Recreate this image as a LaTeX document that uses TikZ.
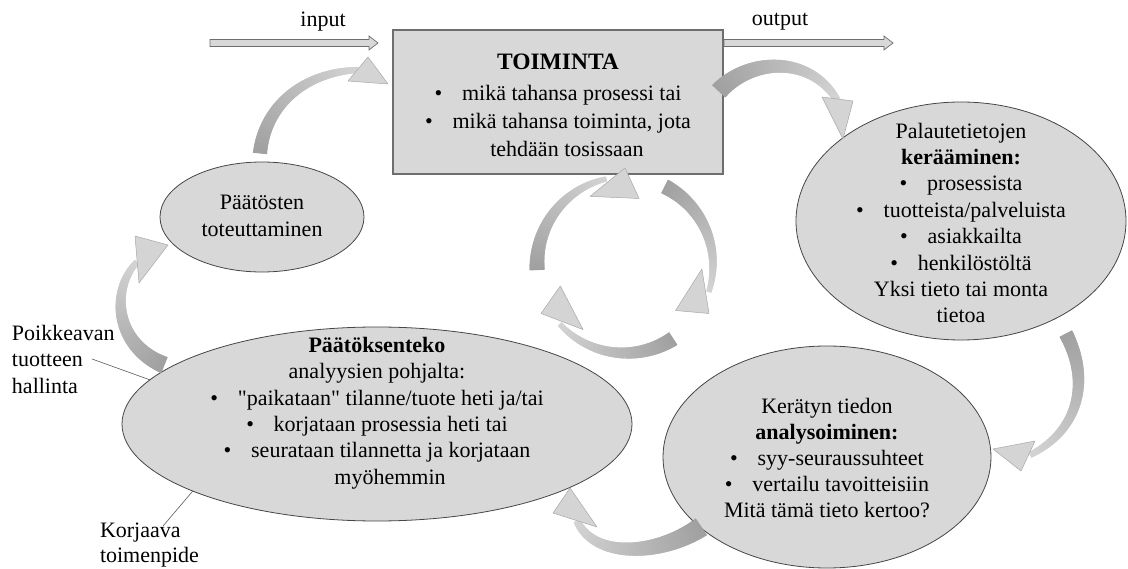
\documentclass[tikz,border=0pt]{standalone}
\usepackage{fontspec}
\setmainfont{Liberation Serif}[Ligatures=TeXOff]
\usetikzlibrary{shapes.geometric,calc,decorations.markings}

\definecolor{shapefill}{RGB}{216,216,216}
\definecolor{shapeline}{RGB}{70,70,70}
\definecolor{boxline}{RGB}{110,110,110}
\definecolor{arrowdark}{RGB}{160,160,160}
\definecolor{arrowlight}{RGB}{212,212,212}
\definecolor{headline}{RGB}{168,168,168}
\definecolor{labelline}{RGB}{90,90,90}

% Tapered shaft of a curved block arrow: #1 tail width, #2 neck width, #3 centre line.
% It is painted as a run of thin slabs across the line that narrow and lighten toward the head.
\newcommand\taperedshaft[3]{%
  \path[decoration={markings,
      mark=between positions 0 and 1 step 0.5pt with {%
        \pgfmathsetmacro\shfrac{\pgfkeysvalueof{/pgf/decoration/mark info/distance from start}/\pgfdecoratedpathlength}%
        \pgfmathsetmacro\shrad{(#1+(#2-#1)*\shfrac)/2}%
        \pgfmathsetmacro\shmix{100*(1-\shfrac)}%
        \fill[arrowdark!\shmix!arrowlight] (-0.5pt,-\shrad pt) rectangle (0.5pt,\shrad pt);%
      }}, decorate] #3;%
}
% Head of a curved block arrow: barb, tip, barb.
\newcommand\blockhead[3]{\filldraw[headstyle] (#1) -- (#2) -- (#3) -- cycle;}
% Flat double-lined arrow between two coordinates on one horizontal line.
\newcommand\flatarrow[2]{%
  \filldraw[flatarrowstyle] ($(#1)+(0,-3.5)$) -- ($(#2)+(-9,-3.5)$) -- ($(#2)+(-9,-7)$) -- (#2)
    -- ($(#2)+(-9,7)$) -- ($(#2)+(-9,3.5)$) -- ($(#1)+(0,3.5)$) -- cycle;}

\begin{document}
\begin{tikzpicture}[x=1pt,y=-1pt,
  every node/.style={font=\fontsize{22}{26.4}\selectfont, inner sep=0pt, outer sep=0pt},
  bubble/.style={ellipse, draw=shapeline, line width=0.8pt, fill=shapefill},
  actbox/.style={rectangle, draw=boxline, line width=1.2pt, fill=shapefill},
  textblock/.style={align=center},
  sidelabel/.style={align=left, anchor=north west},
  headstyle/.style={fill=arrowlight, draw=headline, line width=0.5pt, line join=round},
  flatarrowstyle/.style={fill=shapefill, draw=boxline, line width=0.7pt, line join=miter},
  leader/.style={draw=labelline, line width=0.6pt}]

\useasboundingbox[fill=white] (0,0) rectangle (1128,569);

% ---- main shapes ----
\node[actbox, minimum width=330pt, minimum height=144pt] (act) at (558,102) {};
\node[bubble, minimum width=330pt, minimum height=238pt] (collect) at (961,221) {};
\node[bubble, minimum width=328pt, minimum height=222pt] (analyse) at (827,457) {};
\node[bubble, minimum width=510pt, minimum height=194pt] (decide) at (377,424) {};
\node[bubble, minimum width=204pt, minimum height=110pt] (implement) at (262,217) {};

% ---- texts ----
\node[textblock, font=\fontsize{22}{28}\selectfont] (acttext) at (558,105)
  {{\fontsize{23.5}{28}\selectfont\bfseries TOIMINTA}\\[3pt]
   \textbullet\hspace{0.9em}mikä tahansa prosessi tai\\
   \textbullet\hspace{0.9em}mikä tahansa toiminta, jota\\
   \hspace*{18pt}tehdään tosissaan};

\node[textblock] (collecttext) at (961,223)
  {Palautetietojen\\
   \textbf{kerääminen:}\\
   \textbullet\hspace{0.9em}prosessista\\
   \textbullet\hspace{0.9em}tuotteista/palveluista\\
   \textbullet\hspace{0.9em}asiakkailta\\
   \textbullet\hspace{0.9em}henkilöstöltä\\
   Yksi tieto tai monta\\
   tietoa};

\node[textblock, font=\fontsize{22}{26}\selectfont] (analysetext) at (827,458)
  {Kerätyn tiedon\\
   \textbf{analysoiminen:}\\
   \textbullet\hspace{0.9em}syy-seuraussuhteet\\
   \textbullet\hspace{0.9em}vertailu tavoitteisiin\\
   Mitä tämä tieto kertoo?};

\node[textblock] (decidetext) at (377,413)
  {\textbf{Päätöksenteko}\\
   analyysien pohjalta:\\
   \textbullet\hspace{0.9em}"paikataan" tilanne/tuote heti ja/tai\\
   \textbullet\hspace{0.9em}korjataan prosessia heti tai\\
   \textbullet\hspace{0.9em}seurataan tilannetta ja korjataan\\
   \hspace*{26pt}myöhemmin};

\node[textblock] (implementtext) at (262,216) {Päätösten\\toteuttaminen};

\node (inlabel) at (323,22) {input};
\node (outlabel) at (780,22) {output};

\node[sidelabel] (deviation) at (12,325) {Poikkeavan\\tuotteen\\hallinta};
\node[sidelabel, font=\fontsize{22}{25}\selectfont] (corrective) at (100,523) {Korjaava\\toimenpide};

% ---- leader lines from the side labels ----
\coordinate (devend) at (92,359);
\coordinate (corend) at (163,526);
\draw[leader] (devend) -- (decide.169.4);
\draw[leader] (corend) -- (decide.200.7);

% ---- input / output arrows ----
\coordinate (inS) at (210,43);
\coordinate (inE) at (378,43);
\coordinate (outS) at (724,43);
\coordinate (outE) at (893,43);
\flatarrow{inS}{inE}
\flatarrow{outS}{outE}

% ---- curved block arrows of the outer cycle ----
% implementation -> activity
\taperedshaft{14}{6}{(260,153) .. controls (265,105) and (305,72) .. (358,70)}
\blockhead{368,57}{388,84}{348,81}
% activity -> feedback collection
\taperedshaft{18}{7}{(719,91) .. controls (750,58) and (810,55) .. (837,100)}
\blockhead{822,97}{843,139}{853,101}
% feedback collection -> analysis
\taperedshaft{14}{6}{(1066,334) .. controls (1090,380) and (1080,430) .. (1030,455)}
\blockhead{1035,441}{993,449}{1021,471}
% analysis -> decision making
\taperedshaft{20}{7}{(701,527) .. controls (660,555) and (595,560) .. (577,521)}
\blockhead{597,527}{570,488}{553,513}
% decision making -> implementation
\taperedshaft{17}{6}{(164,365) .. controls (115,345) and (110,290) .. (137,262)}
\blockhead{135,236}{168,245}{139,283}

% ---- inner three-arrow cycle ----
\coordinate (cyc) at (625,265);
\foreach \r in {0,120,240}{
  \taperedshaft{15}{5}{($(cyc)+(177+\r:88)$) arc[start angle=177+\r, end angle=258+\r, radius=88]}
  \blockhead{$(cyc)+(270+\r:97)$}{$(cyc)+(282+\r:68)$}{$(cyc)+(243+\r:77)$}
}
\end{tikzpicture}
\end{document}
